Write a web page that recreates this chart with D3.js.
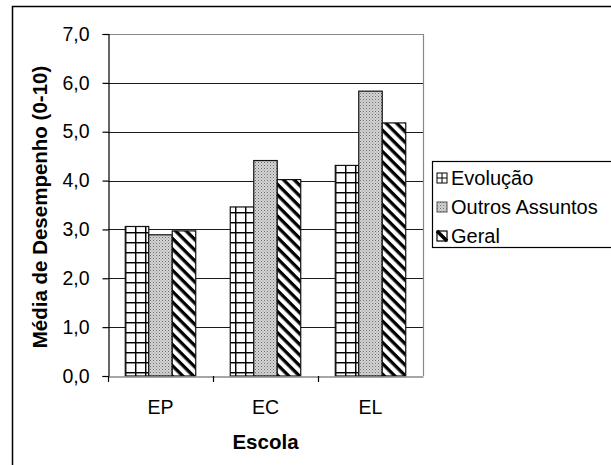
<!DOCTYPE html>
<html>
<head>
<meta charset="utf-8">
<script src="https://cdn.jsdelivr.net/npm/d3@7"></script>
<style>
  html, body { margin: 0; padding: 0; background: #fff; }
  svg { display: block; font-family: "Liberation Sans", Arial, sans-serif; }
</style>
</head>
<body>
<svg id="chart" width="611" height="465"></svg>
<script>
// Schools on the x axis
const categories = ["EP", "EC", "EL"];
// Series names (legend order)
const seriesNames = ["Evolução", "Outros Assuntos", "Geral"];
// Mean performance (0-10) per school, one array per series
const evolucao = [3.06, 3.46, 4.31];
const outros   = [2.89, 4.41, 5.83];
const geral    = [2.97, 4.02, 5.18];
// Y axis ticks
const yTicks = [0, 1, 2, 3, 4, 5, 6, 7];

const seriesValues = [evolucao, outros, geral];
const patternIds = ["pat-grid", "pat-dots", "pat-diag"];

const svg = d3.select("#chart");
const plot = { left: 108, right: 423, top: 34, bottom: 376 };
const FONT = "Liberation Sans, Arial, sans-serif";

// ---- fill patterns ----
const defs = svg.append("defs");

// large grid
const pg = defs.append("pattern").attr("id", "pat-grid")
  .attr("patternUnits", "userSpaceOnUse").attr("width", 10).attr("height", 10)
  .attr("x", 125).attr("y", 2);
pg.append("rect").attr("width", 10).attr("height", 10).attr("fill", "#fff");
pg.append("line").attr("x1", 0.7).attr("y1", 0).attr("x2", 0.7).attr("y2", 10)
  .attr("stroke", "#000").attr("stroke-width", 1.5);
pg.append("line").attr("x1", 0).attr("y1", 0.7).attr("x2", 10).attr("y2", 0.7)
  .attr("stroke", "#000").attr("stroke-width", 1.5);

// fine dots
const pd = defs.append("pattern").attr("id", "pat-dots")
  .attr("patternUnits", "userSpaceOnUse").attr("width", 3).attr("height", 3);
pd.append("rect").attr("width", 3).attr("height", 3).attr("fill", "#d6d6d6");
pd.append("rect").attr("x", 0).attr("y", 0).attr("width", 1).attr("height", 1).attr("fill", "#6a6a6a");
pd.append("rect").attr("x", 1.5).attr("y", 1.5).attr("width", 1).attr("height", 1).attr("fill", "#8a8a8a");

// wide downward diagonal stripes (top-left to bottom-right)
const pw = defs.append("pattern").attr("id", "pat-diag")
  .attr("patternUnits", "userSpaceOnUse").attr("width", 7.5).attr("height", 7.5)
  .attr("patternTransform", "rotate(45)");
pw.append("rect").attr("width", 7.5).attr("height", 7.5).attr("fill", "#fff");
pw.append("rect").attr("x", 0).attr("y", 0).attr("width", 7.5).attr("height", 3.3).attr("fill", "#000");

// ---- outer chart frame ----
svg.append("rect")
  .attr("x", 12.5).attr("y", 6.5).attr("width", 640).attr("height", 500)
  .attr("fill", "none").attr("stroke", "#000").attr("stroke-width", 1.5);

// ---- scales ----
const x = d3.scaleBand().domain(categories).range([plot.left, plot.right])
  .paddingInner(0).paddingOuter(0);
const xs = d3.scaleBand().domain(seriesNames).range([0, x.bandwidth()])
  .paddingInner(0).paddingOuter(0.735);
const y = d3.scaleLinear().domain([0, 7]).range([plot.bottom, plot.top]);

// ---- gridlines ----
svg.append("g").selectAll("line").data(yTicks.filter(d => d > 0)).join("line")
  .attr("x1", plot.left).attr("x2", plot.right)
  .attr("y1", d => Math.round(y(d)) + 0.5).attr("y2", d => Math.round(y(d)) + 0.5)
  .attr("stroke", d => d === 7 ? "#888" : "#1a1a1a").attr("stroke-width", 1.2);

// plot area right edge
svg.append("line")
  .attr("x1", plot.right + 0.5).attr("x2", plot.right + 0.5)
  .attr("y1", plot.top).attr("y2", plot.bottom)
  .attr("stroke", "#888").attr("stroke-width", 1.2);

// ---- bars ----
const rows = [];
categories.forEach((c, i) => seriesNames.forEach((s, j) =>
  rows.push({ cat: c, series: s, si: j, value: seriesValues[j][i] })));

svg.append("g").selectAll("rect").data(rows).join("rect")
  .attr("x", d => x(d.cat) + xs(d.series))
  .attr("y", d => y(d.value))
  .attr("width", xs.bandwidth())
  .attr("height", d => y(0) - y(d.value))
  .attr("fill", d => `url(#${patternIds[d.si]})`)
  .attr("stroke", "#111").attr("stroke-width", 1.2);

// ---- y axis ----
const fmt = d => d3.format(".1f")(d).replace(".", ",");
const yAxis = svg.append("g")
  .attr("transform", `translate(${plot.left + 0.5},0)`)
  .call(d3.axisLeft(y).tickValues(yTicks).tickFormat(fmt).tickSize(6).tickPadding(13));
yAxis.select(".domain").attr("stroke", "#000").attr("stroke-width", 1.2);
yAxis.selectAll(".tick line").attr("stroke", "#000").attr("stroke-width", 1.2);
yAxis.selectAll(".tick text").attr("font-size", 19.5).attr("fill", "#000")
  .attr("font-family", FONT);

// ---- x axis ----
const xAxis = svg.append("g")
  .attr("transform", `translate(0,${plot.bottom + 0.5})`)
  .call(d3.axisBottom(x).tickSize(0).tickPadding(24));
xAxis.select(".domain").attr("stroke", "#888").attr("stroke-width", 1.5);
xAxis.selectAll(".tick text").attr("font-size", 19.5).attr("fill", "#000")
  .attr("font-family", FONT);
// category boundary ticks
svg.append("g").selectAll("line").data(categories.slice(1)).join("line")
  .attr("x1", d => x(d) + 0.5).attr("x2", d => x(d) + 0.5)
  .attr("y1", plot.bottom).attr("y2", plot.bottom + 6)
  .attr("stroke", "#000").attr("stroke-width", 1.2);
svg.append("line")
  .attr("x1", plot.left + 0.5).attr("x2", plot.left + 0.5)
  .attr("y1", plot.bottom).attr("y2", plot.bottom + 6)
  .attr("stroke", "#000").attr("stroke-width", 1.2);

// ---- axis titles ----
svg.append("text")
  .attr("x", (plot.left + plot.right) / 2).attr("y", 449)
  .attr("text-anchor", "middle").attr("font-weight", "bold").attr("font-size", 20.5)
  .text("Escola");
svg.append("text")
  .attr("transform", `translate(47,${(plot.top + plot.bottom) / 2 + 2}) rotate(-90)`)
  .attr("text-anchor", "middle").attr("font-weight", "bold").attr("font-size", 20.5)
  .text("Média de Desempenho (0-10)");

// ---- legend ----
const lg = svg.append("g");
lg.append("rect")
  .attr("x", 432.5).attr("y", 161.5).attr("width", 220).attr("height", 86)
  .attr("fill", "#fff").attr("stroke", "#000").attr("stroke-width", 1.2);
const rowY = [178, 207, 236];
seriesNames.forEach((s, j) => {
  const g = lg.append("g").attr("transform", `translate(437,${rowY[j] - 5})`);
  if (j === 0) {
    g.append("rect").attr("width", 10).attr("height", 10).attr("fill", "#fff")
      .attr("stroke", "#000").attr("stroke-width", 1);
    g.append("line").attr("x1", 5).attr("x2", 5).attr("y1", 0).attr("y2", 10).attr("stroke", "#000");
    g.append("line").attr("x1", 0).attr("x2", 10).attr("y1", 5).attr("y2", 5).attr("stroke", "#000");
  } else if (j === 1) {
    g.append("rect").attr("width", 10).attr("height", 10).attr("fill", "url(#pat-dots)")
      .attr("stroke", "#555").attr("stroke-width", 1);
  } else {
    g.append("rect").attr("width", 10).attr("height", 10).attr("fill", "#fff")
      .attr("stroke", "#000").attr("stroke-width", 1.2);
    g.append("line").attr("x1", 0).attr("y1", 0).attr("x2", 10).attr("y2", 10)
      .attr("stroke", "#000").attr("stroke-width", 3.5);
  }
  lg.append("text").attr("x", 451).attr("y", rowY[j]).attr("dy", "0.36em")
    .attr("font-size", 20).attr("fill", "#000").attr("font-family", FONT).text(s);
});
</script>
</body>
</html>
